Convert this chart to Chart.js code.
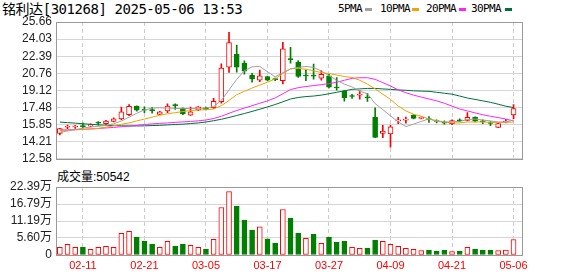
<!DOCTYPE html>
<html>
<head>
<meta charset="utf-8">
<script src="https://cdn.jsdelivr.net/npm/chart.js@4.4.1/dist/chart.umd.min.js"></script>
<style>
  body { margin: 0; background: #fff; width: 578px; height: 276px; overflow: hidden; position: relative; }
  canvas { position: absolute; left: 0; }
  .txt { position: absolute; white-space: nowrap; color: #000; }
  #title { left: 2px; top: 0; font: 14px/18px 'DejaVu Sans Mono', 'Noto Sans CJK SC', monospace; letter-spacing: -0.45px; }
  #volLabel { left: 57px; top: 169px; font: 12px/16px 'Liberation Sans', 'Noto Sans CJK SC', sans-serif; }
  .lg { position: absolute; top: 1px; font: 11px/15px 'DejaVu Sans Mono', monospace; letter-spacing: -0.6px; color: #000; }
  .sw { position: absolute; top: 8px; width: 7px; height: 3px; }
</style>
</head>
<body>
<div id="title" class="txt">铭利达[301268] 2025-05-06 13:53</div>
<div id="legend"></div>
<div id="volLabel" class="txt"></div>
<canvas id="main" width="578" height="170" style="top:0"></canvas>
<canvas id="vol" width="578" height="106" style="top:170px"></canvas>
<script>
// trading days shown
const dates = ['02-06','02-07','02-10','02-11','02-12','02-13','02-14','02-17','02-18','02-19','02-20','02-21',
  '02-24','02-25','02-26','02-27','02-28','03-03','03-04','03-05','03-06','03-07','03-10','03-11','03-12','03-13',
  '03-14','03-17','03-18','03-19','03-20','03-21','03-24','03-25','03-26','03-27','03-28','03-31','04-01','04-02',
  '04-03','04-07','04-08','04-09','04-10','04-11','04-14','04-15','04-16','04-17','04-18','04-21','04-22','04-23',
  '04-24','04-25','04-28','04-29','04-30','05-06'];
const tickDates = ['02-11','02-21','03-05','03-17','03-27','04-09','04-21','05-06'];

const open  = [15.01,15.60,15.62,15.76,15.69,16.02,15.94,16.15,16.40,16.79,17.59,17.27,17.24,16.82,17.16,17.70,17.40,16.76,17.22,17.46,
  17.46,18.05,21.33,22.58,21.73,20.57,20.11,20.45,20.20,20.06,22.12,21.82,20.55,20.53,20.29,20.51,19.40,19.05,18.58,18.66,
  18.45,16.54,15.00,14.96,16.20,16.28,16.76,16.45,16.37,16.18,16.03,15.94,16.27,16.24,16.58,16.15,16.00,15.57,16.10,16.78];
const high  = [15.50,15.81,15.78,15.99,15.92,16.15,16.25,16.49,17.52,17.77,17.65,17.55,17.50,17.12,17.83,17.83,17.45,17.52,17.58,17.52,
  18.37,21.65,24.68,23.46,21.94,20.75,21.06,20.50,20.30,23.71,23.25,21.98,21.12,21.63,21.02,20.66,20.35,19.10,18.75,19.08,
  18.83,17.46,15.78,15.78,16.54,16.58,16.80,16.60,16.62,16.30,16.20,16.30,16.40,17.00,16.60,16.30,16.15,15.97,16.35,17.77];
const low   = [14.87,15.45,15.48,15.54,15.62,15.80,15.85,16.10,16.33,16.70,17.13,17.00,16.95,16.80,17.00,17.31,16.80,16.72,17.18,17.25,
  17.40,17.90,20.85,20.87,20.66,19.90,19.96,20.05,20.05,19.75,21.73,20.36,20.05,20.20,20.11,19.35,19.14,18.10,18.35,18.28,
  18.07,14.60,14.60,13.70,15.93,15.98,16.40,16.40,16.05,16.00,15.88,15.85,16.10,16.20,16.10,15.95,15.75,15.55,16.00,16.41];
const close = [15.46,15.63,15.65,15.64,15.85,15.98,16.18,16.40,17.07,17.59,17.22,17.22,17.19,17.06,17.62,17.66,16.86,17.07,17.55,17.31,
  18.07,21.25,23.70,21.33,20.97,20.21,20.51,20.11,20.15,23.10,22.06,20.45,20.50,20.48,20.66,19.44,19.35,18.42,18.54,18.70,
  18.40,14.62,15.23,15.63,16.25,16.32,16.45,16.53,16.33,16.15,15.99,16.24,16.22,16.54,16.18,16.12,15.96,15.94,16.14,17.37];

const ma5  = [15.10,15.24,15.37,15.51,15.62,15.69,15.77,15.92,16.20,16.56,16.93,17.25,17.43,17.46,17.43,17.40,17.37,17.39,17.40,17.43,
  17.57,18.16,19.17,20.18,21.00,21.37,21.41,20.91,20.41,20.82,21.18,21.32,21.41,21.32,20.97,20.54,20.09,19.72,19.45,19.05,
  18.80,17.86,17.28,16.67,16.12,15.66,15.90,16.15,16.40,16.15,16.10,16.12,16.15,16.33,16.38,16.29,16.20,16.10,16.10,16.29];
const ma10 = [15.28,15.31,15.35,15.37,15.42,15.49,15.60,15.74,15.88,16.01,16.20,16.38,16.56,16.75,16.88,16.99,17.10,17.19,17.25,17.27,
  17.34,17.66,18.16,18.71,19.03,19.35,19.63,19.90,20.22,20.73,21.18,21.23,21.14,21.00,20.82,20.73,20.59,20.45,20.36,20.09,
  19.72,19.26,18.76,18.26,17.62,17.16,16.84,16.65,16.38,16.24,16.10,16.01,16.01,16.10,16.10,16.10,16.06,16.06,16.06,16.10];
const ma20 = [15.33,15.35,15.37,15.40,15.44,15.48,15.53,15.58,15.65,15.71,15.78,15.86,15.92,15.97,16.01,16.06,16.11,16.15,16.21,16.29,
  16.43,16.65,16.93,17.20,17.43,17.66,17.89,18.12,18.40,18.80,19.20,19.38,19.49,19.58,19.67,19.77,19.90,20.09,20.27,20.33,
  20.33,20.18,19.86,19.54,19.17,18.90,18.67,18.48,18.30,18.12,17.89,17.62,17.34,17.16,16.97,16.79,16.65,16.52,16.38,16.20];
const ma30 = [16.09,16.04,15.99,15.93,15.88,15.83,15.78,15.76,15.73,15.72,15.72,15.73,15.76,15.78,15.82,15.86,15.89,15.95,16.01,16.10,
  16.22,16.36,16.53,16.72,16.91,17.11,17.32,17.54,17.77,18.03,18.30,18.44,18.53,18.58,18.67,18.80,18.94,19.08,19.22,19.26,
  19.31,19.31,19.26,19.22,19.17,19.13,19.08,19.05,19.03,18.94,18.85,18.76,18.58,18.39,18.26,18.12,17.98,17.80,17.61,17.48];

// volume in 万 shares, volUp: 1 = red bar
const vol = [2.52,3.50,2.52,2.52,1.87,2.52,2.85,2.52,7.10,7.76,5.90,4.59,3.60,2.52,4.48,2.95,3.60,3.17,2.52,1.97,
  5.14,15.63,20.87,16.06,11.47,8.20,9.28,5.35,3.83,14.97,12.13,7.10,5.46,6.77,3.83,5.79,4.15,4.48,2.52,2.20,
  2.30,4.92,4.48,3.50,2.85,2.20,1.87,1.42,1.64,1.31,1.64,1.09,1.31,2.52,1.97,1.64,1.64,1.42,1.64,5.0542];
const volUp = [1,1,1,0,1,1,1,1,1,1,0,0,0,1,1,0,0,1,1,0,1,1,1,0,0,0,1,0,0,1,
  0,0,1,0,1,0,0,0,1,1,0,0,1,1,1,1,1,1,0,0,0,1,0,1,0,0,0,1,1,1];

const priceTicks = [12.58, 14.21, 15.85, 17.48, 19.12, 20.76, 22.39, 24.03, 25.66];
const volTicks = [0, 5.60, 11.19, 16.79, 22.39];

const maSeries = [
  { name: '5PMA', data: ma5, color: '#a0a0a0', x: 338, sx: 365 },
  { name: '10PMA', data: ma10, color: '#f5a200', x: 380, sx: 412 },
  { name: '20PMA', data: ma20, color: '#ff22ff', x: 426, sx: 459 },
  { name: '30PMA', data: ma30, color: '#00703a', x: 471, sx: 505 }
];

const RED = '#ff0000', GREEN = '#008000';
const idx = dates.map((d, i) => i);
const up = close.map((c, i) => c >= open[i]);

// legend + volume caption
const lg = document.getElementById('legend');
maSeries.forEach(m => {
  lg.insertAdjacentHTML('beforeend',
    `<span class="lg" style="left:${m.x}px">${m.name}</span><span class="sw" style="left:${m.sx}px;background:${m.color}"></span>`);
});
document.getElementById('volLabel').textContent = '成交量:' + Math.round(vol[vol.length - 1] * 10000);

const frame = {
  id: 'frame',
  afterDraw(c) {
    const a = c.chartArea, g = c.ctx;
    g.save();
    g.strokeStyle = '#999';
    g.lineWidth = 1;
    g.strokeRect(Math.round(a.left) + 0.5, Math.round(a.top) + 0.5, Math.round(a.right - a.left), Math.round(a.bottom - a.top));
    g.restore();
  }
};

function xAxis(labels) {
  return {
    type: 'linear', min: -0.5, max: 60.1, offset: false,
    grid: { color: '#cccccc', drawTicks: false, offset: false },
    border: { display: false, dash: [4, 3] },
    afterBuildTicks: s => { s.ticks = tickDates.map(d => ({ value: dates.indexOf(d) })); },
    afterFit: s => { s.height = labels ? 21 : 0; },
    ticks: {
      display: labels, autoSkip: false, maxRotation: 0, padding: 4, color: RED,
      font: { size: 11, family: 'Liberation Sans' },
      callback: v => dates[v]
    }
  };
}

function yAxis(min, max, vals, fmt) {
  return {
    min: min, max: max,
    afterBuildTicks: s => { s.ticks = vals.map(v => ({ value: v })); },
    afterFit: s => { s.width = 56; },
    grid: { color: '#d6d6d6', drawTicks: false },
    border: { display: false },
    ticks: { autoSkip: false, padding: 4, color: '#222', font: { size: 12, family: "'Liberation Sans', 'Noto Sans CJK SC'" }, callback: fmt }
  };
}

const common = {
  responsive: false, devicePixelRatio: 1, animation: false,
  plugins: { legend: { display: false }, tooltip: { enabled: false } }
};

new Chart(document.getElementById('main'), {
  type: 'bar',
  data: {
    datasets: [
      ...maSeries.map(m => ({
        type: 'line', data: idx.map(i => ({ x: i, y: m.data[i] })),
        borderColor: m.color, borderWidth: 1, pointRadius: 0, tension: 0, order: 0
      })),
      {
        data: idx.map(i => ({ x: i, y: [open[i], close[i]] })),
        backgroundColor: up.map(u => u ? '#fff' : GREEN),
        borderColor: up.map(u => u ? RED : GREEN),
        borderWidth: 1, borderSkipped: false, barThickness: 5, minBarLength: 1, grouped: false, order: 2
      },
      {
        data: idx.map(i => ({ x: i, y: [low[i], high[i]] })),
        backgroundColor: up.map(u => u ? RED : GREEN),
        barThickness: 1, grouped: false, order: 3
      }
    ]
  },
  options: {
    ...common,
    layout: { padding: { left: 0, right: 56, top: 22, bottom: 5 } },
    scales: {
      x: xAxis(false),
      y: yAxis(12.58, 25.66, priceTicks, v => v.toFixed(2))
    }
  },
  plugins: [frame]
});

new Chart(document.getElementById('vol'), {
  type: 'bar',
  data: {
    datasets: [{
      data: idx.map(i => ({ x: i, y: vol[i] })),
      backgroundColor: volUp.map(u => u ? '#fff' : GREEN),
      borderColor: volUp.map(u => u ? RED : GREEN),
      borderWidth: 1, borderSkipped: false, barThickness: 5, grouped: false
    }]
  },
  options: {
    ...common,
    layout: { padding: { left: 0, right: 56, top: 17, bottom: 0 } },
    scales: {
      x: xAxis(true),
      y: yAxis(0, 22.39, volTicks, v => v === 0 ? '0' : v.toFixed(2) + '万')
    }
  },
  plugins: [frame]
});
</script>
</body>
</html>
